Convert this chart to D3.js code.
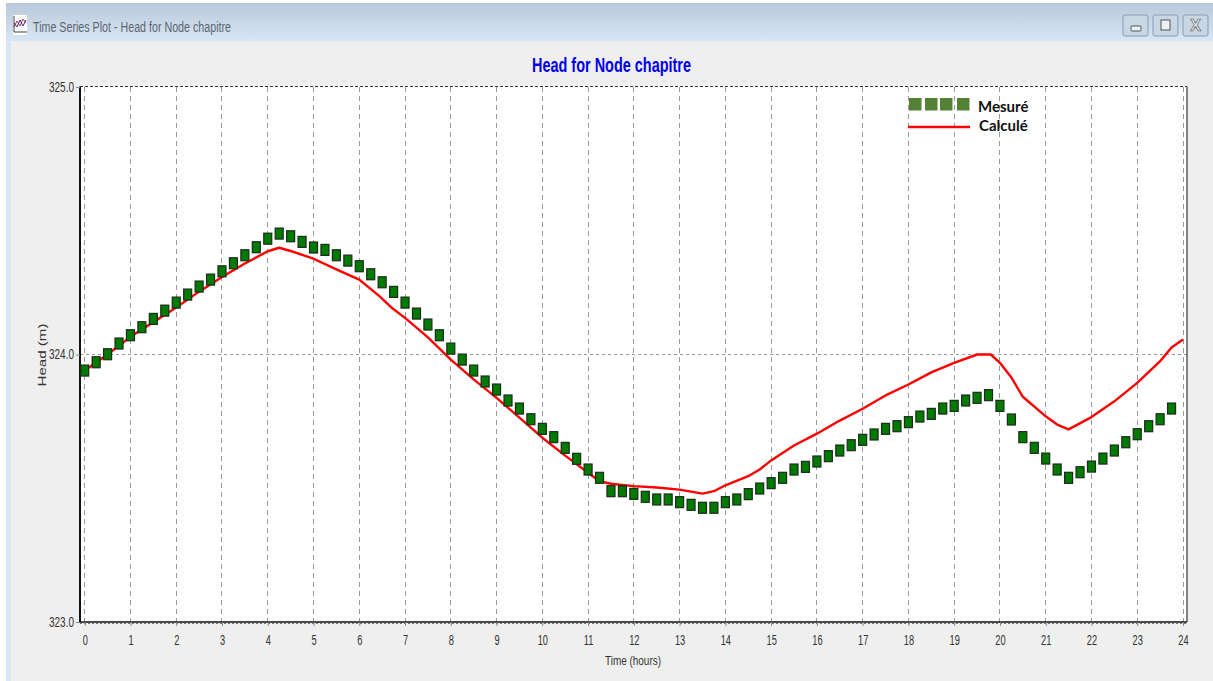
<!DOCTYPE html>
<html><head><meta charset="utf-8">
<script src="https://d3js.org/d3.v7.min.js"></script>
<style>
html,body{margin:0;padding:0;background:#fff;overflow:hidden}
svg{display:block}
text{font-family:"Liberation Sans",sans-serif}
</style></head><body>
<svg id="c" width="1213" height="681"></svg>
<script>
const windowTitle = "Time Series Plot - Head for Node chapitre";
const chartTitle = "Head for Node chapitre";
const xLabel = "Time (hours)";
const yLabel = "Head (m)";
const xTicks = d3.range(0, 25);
const yTicks = [323, 324, 325];
const legendLabels = ["Mesuré", "Calculé"];

const measuredStep = 0.25;
const measured = [
323.940,323.971,324.001,324.041,324.072,324.102,324.133,324.164,
324.194,324.224,324.254,324.280,324.311,324.341,324.371,324.401,
324.433,324.452,324.442,324.421,324.400,324.391,324.371,324.351,
324.330,324.300,324.270,324.234,324.194,324.153,324.112,324.072,
324.022,323.981,323.940,323.899,323.869,323.828,323.798,323.758,
323.722,323.691,323.651,323.610,323.570,323.539,323.489,323.489,
323.479,323.468,323.458,323.458,323.448,323.438,323.427,323.427,
323.448,323.458,323.478,323.499,323.519,323.539,323.570,323.580,
323.600,323.620,323.641,323.661,323.681,323.701,323.722,323.732,
323.747,323.768,323.778,323.798,323.808,323.828,323.838,323.848,
323.808,323.757,323.691,323.651,323.611,323.570,323.539,323.560,
323.581,323.611,323.641,323.672,323.702,323.732,323.758,323.798];

const calcTime = [0,0.5,1,1.5,2,2.5,3,3.5,4,4.25,4.5,5,5.5,6,6.44,6.7,7,7.5,8,8.5,9,9.5,10,10.5,11,11.25,11.5,12,12.5,13,13.5,13.75,14,14.5,14.75,15,15.5,16,16.5,17,17.5,18,18.5,19,19.5,19.8,20,20.25,20.5,21,21.25,21.5,22,22.5,23,23.5,23.75,24];
const calcHead = [323.94,324.0,324.066,324.121,324.176,324.235,324.29,324.34,324.386,324.399,324.387,324.358,324.318,324.28,324.218,324.176,324.137,324.064,323.981,323.907,323.838,323.764,323.689,323.622,323.558,323.526,323.517,323.508,323.503,323.495,323.48,323.489,323.511,323.545,323.57,323.604,323.66,323.704,323.753,323.797,323.847,323.888,323.933,323.969,324.0,324.0,323.969,323.914,323.842,323.769,323.738,323.72,323.766,323.825,323.894,323.975,324.026,324.056];

const svg = d3.select("#c");
const defs = svg.append("defs");
const g = defs.append("linearGradient").attr("id","bar").attr("x1",0).attr("x2",0).attr("y1",0).attr("y2",1);
g.append("stop").attr("offset",0).attr("stop-color","#b9c8d8");
g.append("stop").attr("offset",1).attr("stop-color","#d8e6f5");

function condense(sel, len){
  sel.each(function(d,i){
    const w = typeof len === "function" ? len(this.getComputedTextLength(), d, i) : len;
    this.setAttribute("textLength", w);
    this.setAttribute("lengthAdjust", "spacingAndGlyphs");
  });
  return sel;
}

// window chrome
svg.append("rect").attr("x",6).attr("y",3).attr("width",1207).attr("height",678).attr("fill","#d8e6f5");
svg.append("rect").attr("x",6).attr("y",3).attr("width",1207).attr("height",38).attr("fill","url(#bar)");
svg.append("rect").attr("x",11).attr("y",41).attr("width",1202).attr("height",640).attr("fill","#efefef");
svg.append("text").attr("x",33).attr("y",31.5).attr("font-size",15.5).attr("fill","#5a6570").text(windowTitle).call(condense,198);

// icon
const ic = svg.append("g").attr("transform","translate(13,15)");
ic.append("rect").attr("width",14).attr("height",20).attr("fill","#fff");
ic.append("path").attr("d","M1,12L4,6L7,11L10,4L13,8").attr("fill","none").attr("stroke","#c33").attr("stroke-width",1);
ic.append("path").attr("d","M1,8L4,12L7,5L10,11L13,5").attr("fill","none").attr("stroke","#33a").attr("stroke-width",1);
ic.append("path").attr("d","M1,1V17H14").attr("fill","none").attr("stroke","#444").attr("stroke-width",1);

// window buttons
[[1123,"min"],[1153,"max"],[1183,"close"]].forEach(([bx,k])=>{
  svg.append("rect").attr("x",bx).attr("y",15).attr("width",25).attr("height",21).attr("rx",2)
    .attr("fill","#c9d6e4").attr("stroke","#8b9bb4");
  if(k==="min") svg.append("rect").attr("x",bx+8).attr("y",26).attr("width",10).attr("height",5).attr("rx",1).attr("fill","#eef1f4").attr("stroke","#555");
  if(k==="max") svg.append("rect").attr("x",bx+8).attr("y",20).attr("width",9).attr("height",10).attr("fill","#eef1f4").attr("stroke","#555");
  if(k==="close") svg.append("text").attr("x",bx+12.5).attr("y",31).attr("text-anchor","middle").attr("font-size",16).attr("font-weight","bold").attr("fill","#eef1f4").attr("stroke","#666").attr("stroke-width",.7).text("X");
});

// scales
const x = d3.scaleLinear().domain([0,24]).range([84.7,1183]);
const y = d3.scaleLinear().domain([323,325]).range([622,87]);
const plotL = 80, plotR = 1187, plotT = 86.5, plotB = 622;

svg.append("rect").attr("x",plotL).attr("y",plotT).attr("width",plotR-plotL).attr("height",plotB-plotT).attr("fill","#fff");

// grid
const grid = svg.append("g").attr("stroke","#999").attr("stroke-width",1).attr("shape-rendering","crispEdges");
grid.selectAll("line.v").data(xTicks).join("line").attr("class","v")
  .attr("x1",d=>x(d)).attr("x2",d=>x(d)).attr("y1",plotT).attr("y2",plotB).attr("stroke-dasharray","5 4");
grid.selectAll("line.h").data([324]).join("line").attr("class","h")
  .attr("x1",plotL).attr("x2",plotR).attr("y1",d=>y(d)).attr("y2",d=>y(d)).attr("stroke-dasharray","3 3");

// frame
svg.append("line").attr("x1",plotL).attr("x2",plotL).attr("y1",plotT).attr("y2",plotB).attr("stroke","#111").attr("stroke-width",2);
svg.append("line").attr("x1",plotL).attr("x2",plotR).attr("y1",plotB).attr("y2",plotB).attr("stroke","#111").attr("stroke-width",1.6);
svg.append("line").attr("x1",plotR).attr("x2",plotR).attr("y1",plotT).attr("y2",plotB).attr("stroke","#333").attr("stroke-width",1.2);
svg.append("line").attr("x1",plotL).attr("x2",plotR).attr("y1",plotT).attr("y2",plotT).attr("stroke","#333").attr("stroke-width",1).attr("stroke-dasharray","3 2");
svg.append("line").attr("x1",plotL).attr("x2",plotR).attr("y1",plotB+1.3).attr("y2",plotB+1.3).attr("stroke","#555").attr("stroke-width",1).attr("stroke-dasharray","2 2");

// axes
const axB = d3.axisBottom(x).tickValues(xTicks).tickFormat(d3.format("d")).tickSize(4).tickPadding(9);
const gx = svg.append("g").attr("transform",`translate(0,${plotB})`).call(axB);
gx.select(".domain").remove();
gx.selectAll("line").attr("stroke","#888");
gx.selectAll("text").attr("font-size",14).attr("fill","#333").call(condense,w=>w*0.66);
const axL = d3.axisLeft(y).tickValues(yTicks).tickFormat(d3.format(".1f")).tickSize(4).tickPadding(2);
const gy = svg.append("g").attr("transform",`translate(${plotL},0)`).call(axL);
gy.select(".domain").remove();
gy.selectAll("line").attr("stroke","#888");
gy.selectAll("text").attr("font-size",14).attr("fill","#333").call(condense,25);

// titles
svg.append("text").attr("x",611.5).attr("y",72).attr("text-anchor","middle").attr("font-size",19.5).attr("font-weight","bold").attr("fill","#0000ee").text(chartTitle).call(condense,159);
svg.append("text").attr("x",633).attr("y",665).attr("text-anchor","middle").attr("font-size",13).attr("fill","#333").text(xLabel).call(condense,56);
svg.append("text").attr("transform","translate(46,355) rotate(-90)").attr("text-anchor","middle").attr("font-size",11.5).attr("fill","#333").text(yLabel).call(condense,63);

// line
svg.append("path").datum(calcTime.map((t,i)=>[t,calcHead[i]]))
  .attr("fill","none").attr("stroke","#ff0000").attr("stroke-width",2.4).attr("stroke-linejoin","round")
  .attr("d",d3.line().x(d=>x(d[0])).y(d=>y(d[1])));

// markers
svg.append("g").selectAll("rect").data(measured).join("rect")
  .attr("x",(d,i)=>x(i*measuredStep)-4).attr("y",d=>y(d)-5.5)
  .attr("width",8).attr("height",11)
  .attr("fill","#007a00").attr("stroke","#1c2b1c").attr("stroke-width",1.2);

// legend
const leg = svg.append("g");
leg.selectAll("rect").data(d3.range(4)).join("rect")
  .attr("x",d=>[909,925,940,957][d]).attr("y",98).attr("width",12.5).attr("height",12.5).attr("fill","#548235");
leg.append("line").attr("x1",908).attr("x2",970).attr("y1",127).attr("y2",127).attr("stroke","#ff0000").attr("stroke-width",2.4);
leg.selectAll("text").data(legendLabels).join("text")
  .attr("x",(d,i)=>[978,979][i]).attr("y",(d,i)=>[112,131][i])
  .style("font-family","Lato,'Open Sans',sans-serif").attr("font-weight","bold").attr("font-size",15).attr("fill","#111").text(d=>d);
</script>
</body></html>
